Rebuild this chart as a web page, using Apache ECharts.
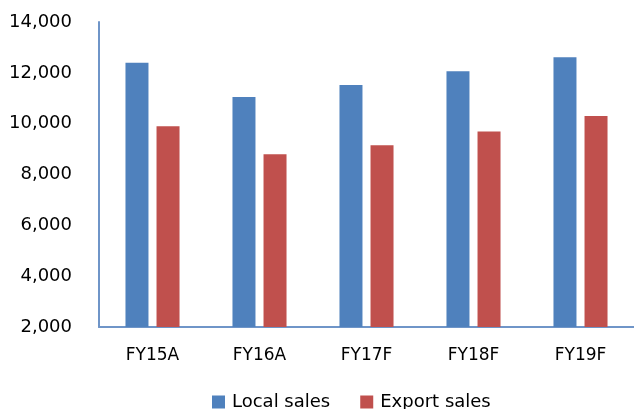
<!DOCTYPE html>
<html><head><meta charset="utf-8">
<script src="https://cdn.jsdelivr.net/npm/echarts@6/dist/echarts.min.js"></script>
<style>html,body{margin:0;padding:0;background:#fff}#c{width:634px;height:409px}</style>
</head><body><div id="c"></div>
<script>
const categories = ['FY15A', 'FY16A', 'FY17F', 'FY18F', 'FY19F'];
const localSales = [12400, 11050, 11520, 12060, 12610];
const exportSales = [9900, 8800, 9150, 9690, 10300];
const seriesNames = ['Local sales', 'Export sales'];

const chart = echarts.init(document.getElementById('c'));
const font = '"DejaVu Sans", sans-serif';
chart.setOption({
  animation: false,
  textStyle: { fontFamily: font },
  grid: { left: 99, right: 0, top: 22, bottom: 82 },
  legend: {
    data: seriesNames, left: 207, top: 388,
    itemWidth: 13, itemHeight: 13, itemGap: 30,
    icon: 'rect',
    textStyle: { fontFamily: font, fontSize: 18, color: '#000', padding: [0,0,0,2] }
  },
  xAxis: {
    type: 'category', data: categories,
    axisLine: { lineStyle: { color: '#6f95c8', width: 2 } },
    axisTick: { show: false },
    axisLabel: { fontFamily: font, fontSize: 17, color: '#000', margin: 20 }
  },
  yAxis: {
    type: 'value', min: 2000, max: 14000, interval: 2000,
    axisLine: { show: true, lineStyle: { color: '#6f95c8', width: 2 } },
    axisTick: { show: false },
    splitLine: { show: false },
    axisLabel: { fontFamily: font, fontSize: 18, color: '#000', margin: 27,
      formatter: v => v.toLocaleString('en-US') }
  },
  series: [
    { name: seriesNames[0], type: 'bar', data: localSales, barWidth: 23, barGap: '35%',
      itemStyle: { color: '#4F81BD' } },
    { name: seriesNames[1], type: 'bar', data: exportSales, barWidth: 23, barGap: '35%',
      itemStyle: { color: '#C0504D' } }
  ]
});
</script></body></html>
